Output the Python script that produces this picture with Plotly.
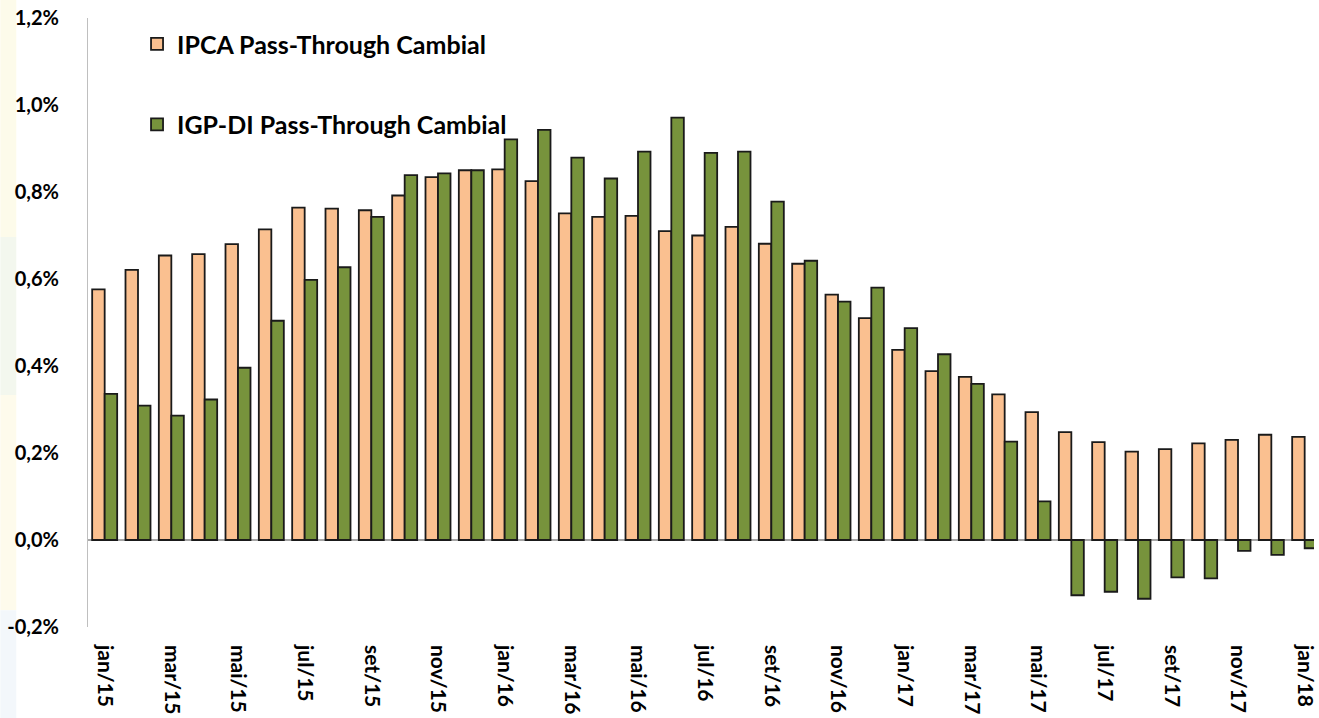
import plotly.graph_objects as go

# Months from jan/15 to jan/18
months = [
    "jan/15", "fev/15", "mar/15", "abr/15", "mai/15", "jun/15", "jul/15", "ago/15",
    "set/15", "out/15", "nov/15", "dez/15", "jan/16", "fev/16", "mar/16", "abr/16",
    "mai/16", "jun/16", "jul/16", "ago/16", "set/16", "out/16", "nov/16", "dez/16",
    "jan/17", "fev/17", "mar/17", "abr/17", "mai/17", "jun/17", "jul/17", "ago/17",
    "set/17", "out/17", "nov/17", "dez/17", "jan/18",
]

# Pass-through cambial (% a.m.)
ipca = [
    0.576, 0.621, 0.654, 0.657, 0.680, 0.714, 0.764, 0.762,
    0.758, 0.792, 0.834, 0.850, 0.852, 0.825, 0.751, 0.743,
    0.745, 0.710, 0.700, 0.720, 0.681, 0.635, 0.564, 0.510,
    0.437, 0.388, 0.375, 0.335, 0.294, 0.248, 0.225, 0.203,
    0.209, 0.222, 0.230, 0.242, 0.237,
]
igp_di = [
    0.336, 0.309, 0.286, 0.323, 0.396, 0.504, 0.598, 0.627,
    0.743, 0.839, 0.843, 0.850, 0.921, 0.943, 0.879, 0.831,
    0.893, 0.971, 0.890, 0.893, 0.778, 0.642, 0.548, 0.580,
    0.487, 0.427, 0.359, 0.226, 0.089, -0.127, -0.119, -0.135,
    -0.086, -0.088, -0.025, -0.034, -0.019,
]

y_ticks = [-0.2, 0.0, 0.2, 0.4, 0.6, 0.8, 1.0, 1.2]
y_tick_labels = ["-0,2%", "0,0%", "0,2%", "0,4%", "0,6%", "0,8%", "1,0%", "1,2%"]

x_tick_labels = months[::2]

FONT = "Lato"
ORANGE = "#FAC090"
GREEN = "#77933C"

fig = go.Figure()
fig.add_trace(go.Bar(
    x=months, y=ipca, name="IPCA Pass-Through Cambial",
    marker=dict(color=ORANGE, line=dict(color="#1a1a1a", width=1.8)),
    legendgroup="ipca",
))
fig.add_trace(go.Bar(
    x=months, y=igp_di, name="IGP-DI Pass-Through Cambial",
    marker=dict(color=GREEN, line=dict(color="#1a1a1a", width=1.8)),
    legendgroup="igp",
))

# faint tinted strip along the left edge of the slide
strip = [(0.0, 0.33, "#fdfbea"), (0.33, 0.55, "#f3f7ee"), (0.55, 0.85, "#fefbec"), (0.85, 1.0, "#f3f7fb")]
shapes = []
for y0, y1, c in strip:
    shapes.append(dict(type="rect", xref="paper", yref="paper",
                       x0=-88 / 1231, x1=-72 / 1231,
                       y0=1 + 18 / 609 - y1 * (718 / 609), y1=1 + 18 / 609 - y0 * (718 / 609),
                       fillcolor=c, line=dict(width=0), layer="below"))

fig.update_layout(
    width=1319, height=718,
    margin=dict(l=88, r=0, t=18, b=91),
    paper_bgcolor="white", plot_bgcolor="white",
    barmode="group", bargap=0.25, bargroupgap=0.0,
    font=dict(family=FONT, color="black"),
    shapes=shapes,
    legend=dict(
        x=0.04, y=0.995, xanchor="left", yanchor="top",
        font=dict(family=FONT, size=25, color="black", weight="bold"),
        traceorder="grouped", tracegroupgap=45,
        bgcolor="rgba(0,0,0,0)",
    ),
    showlegend=True,
)
fig.update_xaxes(
    type="category", range=[-0.5, 36.28],
    tickmode="array", tickvals=x_tick_labels, ticktext=x_tick_labels,
    tickangle=90, tickfont=dict(family=FONT, size=21, weight="bold"),
    showgrid=False, showline=False, ticks="", ticklabelstandoff=17,
)
fig.update_yaxes(
    range=[-0.2, 1.2], tickmode="array", tickvals=y_ticks, ticktext=y_tick_labels,
    tickfont=dict(family=FONT, size=20, weight="bold"),
    showgrid=False, showline=True, linecolor="#bfbfbf", linewidth=1,
    zeroline=True, zerolinecolor="#a6a6a6", zerolinewidth=1.5,
    ticks="", ticklabelstandoff=24,
)

fig.write_html("out.html")
